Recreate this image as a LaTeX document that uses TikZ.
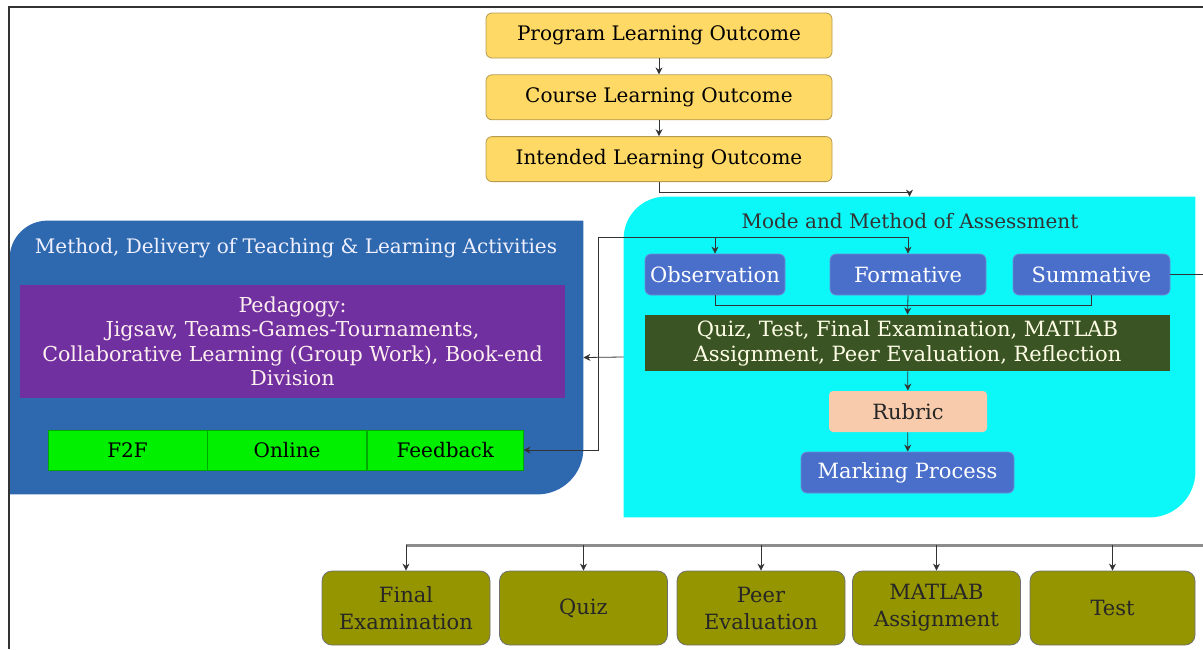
\documentclass[tikz,border=0pt]{standalone}
\usepackage{fontspec}
\setmainfont{DejaVu Serif}
\usepackage{xcolor}
\usepackage{tikz}
\usetikzlibrary{positioning,arrows.meta,calc,backgrounds}
\definecolor{cOutc}{HTML}{FFD966}
\definecolor{cOutD}{HTML}{B59A4E}
\definecolor{cMeth}{HTML}{2E69B0}
\definecolor{cAsse}{HTML}{0CF8F8}
\definecolor{cPeda}{HTML}{7030A0}
\definecolor{cMode}{HTML}{4A6FCB}
\definecolor{cItem}{HTML}{3A5424}
\definecolor{cRubr}{HTML}{F8CBAD}
\definecolor{cDel} {HTML}{00F000}
\definecolor{cTask}{HTML}{959500}
\definecolor{cGray}{HTML}{333333}
\tikzset{
  >={Stealth[length=3.5pt,width=3.5pt]},
  sbox/.style={align=center,inner sep=2pt,font=\fontsize{10}{11.5}\selectfont},
  sout/.style={sbox,rounded corners=3pt,fill=cOutc,draw=cOutD,
               minimum width=173pt,minimum height=22.5pt},
  smod/.style={sbox,rounded corners=3pt,fill=cMode,draw=cMode!80!white,
               text=white,minimum height=20.5pt,font=\fontsize{10.5}{12}\selectfont},
  sdel/.style={sbox,fill=cDel,draw=cDel!70!black,line width=0.3pt,
               minimum width=79.5pt,minimum height=20pt},
  stsk/.style={sbox,rounded corners=5pt,fill=cTask,draw=cGray!70,
               text=black!85,minimum width=84pt,minimum height=37pt,
               font=\fontsize{10.5}{13.5}\selectfont},
  sar/.style ={->,thin,cGray},
  sbus/.style={line width=1.5pt,black!45},
}
\begin{document}
\begin{tikzpicture}[x=0.5pt,y=-0.5pt,node distance=8pt]
  \useasboundingbox (0,0) rectangle (1203,649);
  % frame
  \draw[line width=1pt,cGray] (9,649) -- (9,7) -- (1203,7);

  % outcomes
  \node[sout] (plo) at (659,35.5) {Program Learning Outcome};
  \node[sout,below=of plo] (clo) {Course Learning Outcome};
  \node[sout,below=of clo] (ilo) {Intended Learning Outcome};
  \draw[sar] (plo)--(clo); \draw[sar] (clo)--(ilo);

  % the two panels
  \node[minimum width=285.5pt,minimum height=160pt,inner sep=0pt] (asse) at (909.5,357) {};
  \node[minimum width=286.5pt,minimum height=136.5pt,inner sep=0pt] (meth) at (296.5,357.5) {};
  \node[sbox,text=black!80] (atit) at (910,221) {Mode and Method of Assessment};
  \node[sbox,text=blue!6] (mtit) at (296,248) {Method, Delivery of Teaching \& Learning Activities};

  % assessment
  \node[smod,minimum width=70pt] (obs) at (715,274.5) {Observation};
  \node[smod,minimum width=78pt] (form) at (908,274.5) {Formative};
  \node[smod,minimum width=78.5pt] (sum) at (1091.5,274.5) {Summative};
  \node[sbox,fill=cItem,text=yellow!10,minimum width=262.5pt,minimum height=28pt,
        font=\fontsize{10.5}{12.5}\selectfont] (item) at (907.5,343)
        {Quiz, Test, Final Examination, MATLAB\\Assignment, Peer Evaluation, Reflection};
  \node[sbox,rounded corners=2pt,fill=cRubr,text=black!85,minimum width=79pt,
        minimum height=20.5pt,font=\fontsize{10.5}{12}\selectfont] (rub) at (908,411.5) {Rubric};
  \node[smod,minimum width=106.5pt] (mark) at (907.5,472.5) {Marking Process};

  % teaching and learning
  \node[sbox,fill=cPeda,text=pink!25,minimum width=272.5pt,minimum height=56.5pt,
        font=\fontsize{10.3}{12.2}\selectfont] (peda) at (292.5,341.5)
        {Pedagogy:\\Jigsaw, Teams-Games-Tournaments,\\Collaborative Learning (Group Work), Book-end\\Division};
  \node[sdel] (f2f) at (127.5,450) {F2F};
  \node[sdel,right=0pt of f2f] (onl) {Online};
  \node[sdel,right=0pt of onl,minimum width=78pt] (fb) {Feedback};

  % assessment tasks
  \node[stsk] (fexam) at (406,608) {Final\\Examination};
  \node[stsk] (quiz) at (583.5,608) {Quiz};
  \node[stsk] (peer) at (761,608) {Peer\\Evaluation};
  \node[stsk] (matl) at (936.5,608) {MATLAB\\Assignment};
  \node[stsk,minimum width=82.5pt] (test) at (1112.5,608) {Test};

  \begin{scope}[on background layer]
    \fill[cAsse] (asse.south west) -- ($(asse.north west)+(0,42)$)
      arc[start angle=180,end angle=270,radius=42] -- (asse.north east)
      -- ($(asse.south east)+(0,-46)$) arc[start angle=0,end angle=90,radius=46] -- cycle;
    \fill[cMeth] (meth.south west) -- ($(meth.north west)+(0,38)$)
      arc[start angle=180,end angle=270,radius=38] -- (meth.north east)
      -- ($(meth.south east)+(0,-46)$) arc[start angle=0,end angle=90,radius=46] -- cycle;
  \end{scope}

  % connectors
  \draw[sar] (ilo.south) -- ++(0,10) -| (asse.north);
  \coordinate (loop) at (598,237);
  \draw[sar] (loop) -| (obs.north);
  \draw[sar] (loop) -| (form.north);
  \draw[sar] (loop) |- (fb.east);
  \draw[sar] (asse.west) -- (meth.east);
  \draw[thin,cGray] (obs.south) -- ++(0,10) -| (sum.south);
  \draw[sar] (form.south) -- (item.north);
  \draw[sar] (item)--(rub); \draw[sar] (rub)--(mark);
  \coordinate (sumR) at (1203,274.5);
  \draw[thin,cGray] (sum.east) -- (sumR);
  \coordinate (busR) at (1203,545);
  \draw[sbus] (busR) -- (busR -| fexam.north);
  \foreach \t in {fexam,quiz,peer,matl,test}
    \draw[sar] (busR -| \t.north) -- (\t.north);
\end{tikzpicture}
\end{document}
